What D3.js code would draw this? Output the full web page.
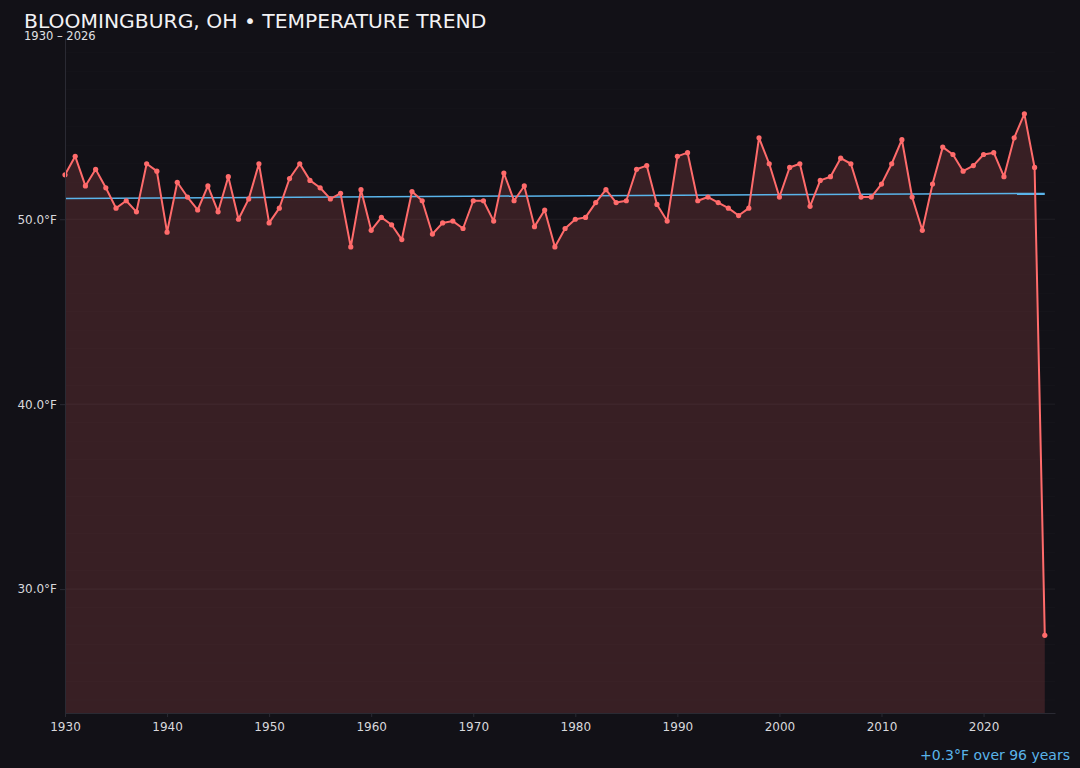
<!DOCTYPE html>
<html><head><meta charset="utf-8">
<script src="https://cdn.jsdelivr.net/npm/d3@7"></script>
<style>
html,body{margin:0;padding:0;background:#121117;}
svg{display:block;font-family:"DejaVu Sans",sans-serif;}
</style></head>
<body>
<svg id="chart" width="1080" height="768"></svg>
<script>
const years = d3.range(1930, 2027);
const temps = [
52.4,53.4,51.8,52.7,51.7,50.6,51.0,50.4,53.0,52.6,
49.3,52.0,51.2,50.5,51.8,50.4,52.3,50.0,51.1,53.0,
49.8,50.6,52.2,53.0,52.1,51.7,51.1,51.4,48.5,51.6,
49.4,50.1,49.7,48.9,51.5,51.0,49.2,49.8,49.9,49.5,
51.0,51.0,49.9,52.5,51.0,51.8,49.6,50.5,48.5,49.5,
50.0,50.1,50.9,51.6,50.9,51.0,52.7,52.9,50.8,49.9,
53.4,53.6,51.0,51.2,50.9,50.6,50.2,50.6,54.4,53.0,
51.2,52.8,53.0,50.7,52.1,52.3,53.3,53.0,51.2,51.2,
51.9,53.0,54.3,51.2,49.4,51.9,53.9,53.5,52.6,52.9,
53.5,53.6,52.3,54.4,55.7,52.8,27.5
];
const xTicks = [1930,1940,1950,1960,1970,1980,1990,2000,2010,2020];
const yTicks = [30,40,50];
const yDomain = [23.3, 59.8];
const titleText = "BLOOMINGBURG, OH • TEMPERATURE TREND";
const subtitleText = "1930 – 2026";

const data = years.map((y,i)=>({year:y, t:temps[i]}));
const svg = d3.select("#chart");
const L=65, R=1055, T=38, B=713;
const x = d3.scaleLinear().domain([1930, 2027]).range([L,R]);
const y = d3.scaleLinear().domain(yDomain).range([B,T]);

// gridlines
const g = svg.append("g");
g.selectAll("line.minor").data(d3.range(24,60)).join("line")
  .attr("x1",L).attr("x2",R).attr("y1",d=>y(d)).attr("y2",d=>y(d))
  .attr("stroke","#ffffff").attr("stroke-opacity",d=>d%10===0?0.06:0.02).attr("stroke-width",1);

// area
const area = d3.area().x(d=>x(d.year)).y0(B).y1(d=>y(d.t));
svg.append("path").datum(data).attr("d",area).attr("fill","#ff6b6b").attr("fill-opacity",0.16);

// trend
const mx=d3.mean(data,d=>d.year), my=d3.mean(data,d=>d.t);
let sxy=0,sxx=0; data.forEach(d=>{sxy+=(d.year-mx)*(d.t-my); sxx+=(d.year-mx)**2;});
const slope=sxy/sxx, icpt=my-slope*mx;
const y0=years[0], y1=years[years.length-1];
svg.append("line").attr("x1",x(y0)).attr("x2",x(y1))
  .attr("y1",y(icpt+slope*y0)).attr("y2",y(icpt+slope*y1))
  .attr("stroke","#5ab4ea").attr("stroke-width",1.5);

// line
const line = d3.line().x(d=>x(d.year)).y(d=>y(d.t));
svg.append("path").datum(data).attr("d",line).attr("fill","none")
  .attr("stroke","#ff6b6b").attr("stroke-width",2).attr("stroke-linejoin","round");
svg.selectAll("circle").data(data).join("circle")
  .attr("cx",d=>x(d.year)).attr("cy",d=>y(d.t)).attr("r",2.6).attr("fill","#ff6b6b");

// axes
const xa = svg.append("g").attr("transform",`translate(0,${B})`)
  .call(d3.axisBottom(x).tickValues(xTicks).tickFormat(d3.format("d")).tickSize(4).tickSizeOuter(0));
const ya = svg.append("g").attr("transform",`translate(${L},0)`)
  .call(d3.axisLeft(y).tickValues(yTicks).tickFormat(d=>d3.format(".1f")(d)+"°F").tickSize(5).tickSizeOuter(0));
[xa,ya].forEach(a=>{
  a.select(".domain").attr("stroke","#2a2a33");
  a.selectAll(".tick line").attr("stroke","#2a2a33");
  a.selectAll(".tick text").attr("fill","#d8d8dc").attr("font-size",12).attr("font-family","DejaVu Sans");
});
xa.selectAll(".tick text").attr("dy","0.95em");

// titles
svg.append("text").attr("x",24).attr("y",27.5).text(titleText)
  .attr("fill","#f2f2f4").attr("font-size",20.3);
svg.append("text").attr("x",24).attr("y",39.5).text(subtitleText)
  .attr("fill","#e0e0e4").attr("font-size",11.5);
const change = slope*(y1-y0);
svg.append("text").attr("x",1070).attr("y",760).attr("text-anchor","end")
  .text((change>=0?"+":"")+change.toFixed(1)+"°F over "+(y1-y0)+" years")
  .attr("fill","#5ab4ea").attr("font-size",14);
</script>
</body></html>
